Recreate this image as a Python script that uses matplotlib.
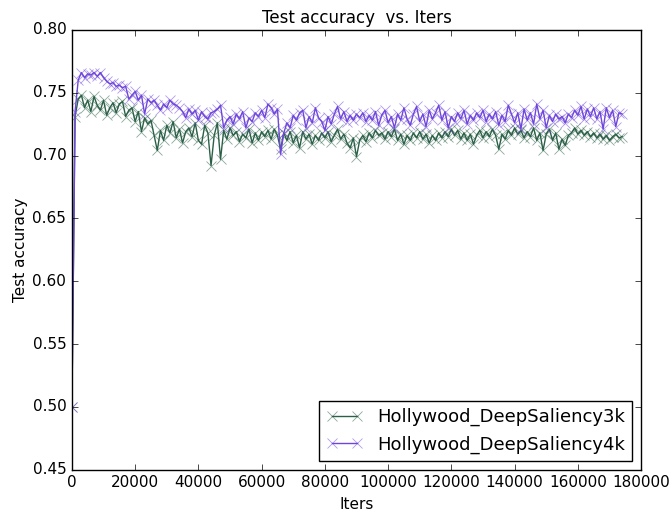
import matplotlib
matplotlib.use('Agg')
import matplotlib.pyplot as plt
from matplotlib.colors import to_rgba
import numpy as np

# test accuracy logged every 1000 iters
iters = np.arange(0, 175000, 1000)

acc_3k = [
    0.500, 0.731, 0.745, 0.748, 0.738, 0.744, 0.735, 0.747, 0.740, 0.736,
    0.744, 0.732, 0.738, 0.742, 0.734, 0.741, 0.743, 0.731, 0.736, 0.738,
    0.727, 0.735, 0.719, 0.730, 0.725, 0.728, 0.716, 0.704, 0.720, 0.712,
    0.724, 0.718, 0.727, 0.714, 0.721, 0.710, 0.719, 0.722, 0.715, 0.726,
    0.712, 0.709, 0.724, 0.718, 0.692, 0.716, 0.726, 0.697, 0.720, 0.713,
    0.722, 0.716, 0.719, 0.711, 0.717, 0.714, 0.721, 0.710, 0.718, 0.712,
    0.719, 0.715, 0.720, 0.713, 0.721, 0.716, 0.705, 0.718, 0.712, 0.719,
    0.710, 0.716, 0.706, 0.719, 0.713, 0.717, 0.709, 0.716, 0.712, 0.718,
    0.714, 0.719, 0.711, 0.716, 0.721, 0.713, 0.717, 0.710, 0.706, 0.714,
    0.699, 0.712, 0.716, 0.711, 0.718, 0.714, 0.720, 0.716, 0.718, 0.713,
    0.719, 0.715, 0.721, 0.712, 0.717, 0.709, 0.716, 0.712, 0.718, 0.714,
    0.719, 0.713, 0.717, 0.710, 0.716, 0.712, 0.718, 0.714, 0.719, 0.715,
    0.721, 0.716, 0.720, 0.713, 0.718, 0.712, 0.717, 0.709, 0.716, 0.720,
    0.714, 0.719, 0.715, 0.721, 0.716, 0.705, 0.717, 0.713, 0.720, 0.716,
    0.722, 0.717, 0.720, 0.714, 0.719, 0.715, 0.722, 0.712, 0.718, 0.704,
    0.717, 0.721, 0.712, 0.718, 0.705, 0.713, 0.708, 0.716, 0.718, 0.722,
    0.717, 0.720, 0.716, 0.719, 0.715, 0.718, 0.714, 0.717, 0.713, 0.716,
    0.712, 0.715, 0.717, 0.714, 0.715,
]

acc_4k = [
    0.500, 0.735, 0.760, 0.766, 0.762, 0.765, 0.764, 0.766, 0.763, 0.766,
    0.762, 0.759, 0.757, 0.758, 0.755, 0.756, 0.754, 0.755, 0.745, 0.748,
    0.751, 0.744, 0.748, 0.733, 0.745, 0.742, 0.744, 0.740, 0.736, 0.741,
    0.738, 0.744, 0.741, 0.740, 0.738, 0.735, 0.730, 0.737, 0.733, 0.736,
    0.728, 0.735, 0.731, 0.729, 0.734, 0.735, 0.737, 0.740, 0.722, 0.728,
    0.731, 0.725, 0.733, 0.729, 0.735, 0.722, 0.730, 0.727, 0.734, 0.731,
    0.736, 0.730, 0.741, 0.738, 0.733, 0.737, 0.701, 0.718, 0.726, 0.722,
    0.732, 0.728, 0.734, 0.736, 0.722, 0.731, 0.726, 0.738, 0.730, 0.727,
    0.720, 0.731, 0.725, 0.733, 0.739, 0.729, 0.735, 0.727, 0.732, 0.728,
    0.733, 0.730, 0.734, 0.727, 0.732, 0.728, 0.735, 0.724, 0.732, 0.736,
    0.726, 0.731, 0.722, 0.733, 0.728, 0.738, 0.729, 0.724, 0.733, 0.739,
    0.727, 0.733, 0.723, 0.736, 0.729, 0.734, 0.740, 0.728, 0.735, 0.722,
    0.731, 0.727, 0.734, 0.729, 0.736, 0.725, 0.732, 0.728, 0.734, 0.730,
    0.736, 0.727, 0.733, 0.729, 0.735, 0.724, 0.732, 0.727, 0.740, 0.733,
    0.726, 0.734, 0.721, 0.737, 0.728, 0.734, 0.725, 0.741, 0.729, 0.736,
    0.722, 0.732, 0.727, 0.733, 0.729, 0.731, 0.726, 0.733, 0.730, 0.736,
    0.732, 0.739, 0.729, 0.737, 0.731, 0.738, 0.729, 0.735, 0.721, 0.738,
    0.730, 0.736, 0.723, 0.734, 0.733,
]

labels = ['Hollywood_DeepSaliency3k', 'Hollywood_DeepSaliency4k']
colors = ['#2b6048', '#6f46dc']

plt.style.use('classic')
fig = plt.figure(figsize=(6.72, 5.14), dpi=100, facecolor='white')
ax = fig.add_axes([0.107, 0.086, 0.847, 0.856])

for acc, label, color in zip([acc_3k, acc_4k], labels, colors):
    ax.plot(iters, acc, color=color, marker='x', markersize=7, markeredgewidth=0.6,
            markeredgecolor=to_rgba(color, 0.55), linewidth=1.0, label=label)

ax.set_xlim(0, 180000)
ax.set_ylim(0.45, 0.80)
ax.set_yticks(np.arange(0.45, 0.801, 0.05))
ax.set_yticklabels(['%.2f' % v for v in np.arange(0.45, 0.801, 0.05)])
ax.tick_params(labelsize=11)
ax.set_title('Test accuracy  vs. Iters', fontsize=12)
ax.set_xlabel('Iters', fontsize=11)
ax.set_ylabel('Test accuracy', fontsize=11)
ax.yaxis.set_label_coords(-0.077, 0.5)
ax.legend(loc='lower right', fontsize=13, numpoints=2)

fig.savefig('out.png', dpi=100, facecolor='white')
